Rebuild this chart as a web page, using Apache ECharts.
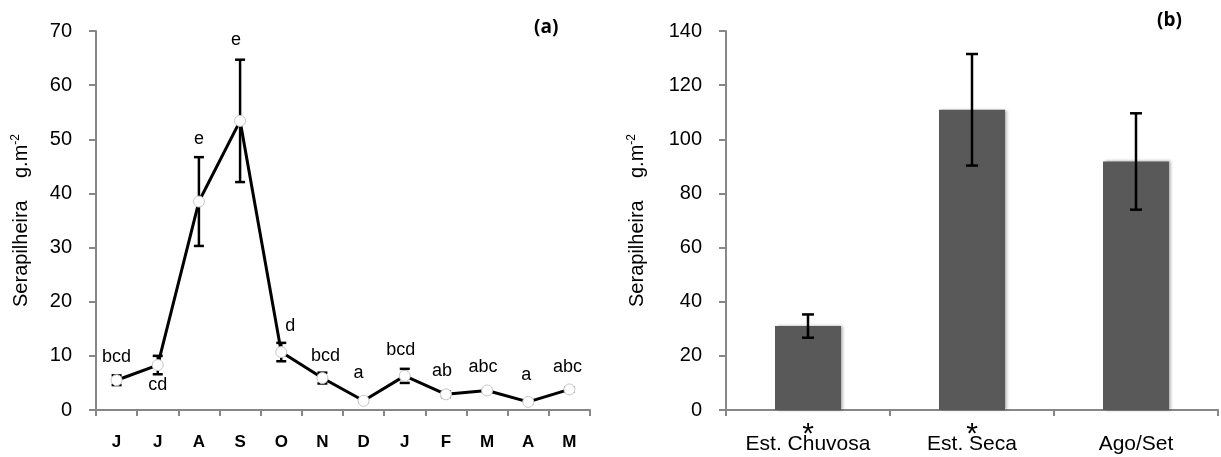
<!DOCTYPE html>
<html>
<head>
<meta charset="utf-8">
<script src="https://cdn.jsdelivr.net/npm/echarts@6/dist/echarts.min.js"></script>
<style>
html, body { margin: 0; padding: 0; background: #fff; }
#chart { width: 1221px; height: 457px; }
</style>
</head>
<body>
<div id="chart"></div>
<script>
// (a) serapilheira por mes
var months = ['J', 'J', 'A', 'S', 'O', 'N', 'D', 'J', 'F', 'M', 'A', 'M'];
var monthMean = [5.5, 8.3, 38.5, 53.4, 10.7, 5.9, 1.7, 6.3, 2.9, 3.6, 1.5, 3.8];
var monthErr = [0.9, 1.7, 8.2, 11.3, 1.7, 1.0, 0.3, 1.3, 0.5, 0.4, 0.3, 0.4];
var monthLetters = ['bcd', 'cd', 'e', 'e', 'd', 'bcd', 'a', 'bcd', 'ab', 'abc', 'a', 'abc'];

// (b) por estacao
var seasons = ['Est. Chuvosa', 'Est. Seca', 'Ago/Set'];
var seasonMean = [31.0, 110.9, 91.8];
var seasonErr = [4.3, 20.6, 17.8];
var seasonStars = ['*', '*', ''];

// deslocamento das letras (px) em relacao ao ponto
var letterOffset = [[0, -23], [0, 20], [0, -63], [-4, -81], [9, -26], [3, -22],
                    [-5, -28], [-4, -26], [-4, -23], [-4, -23], [-2, -27], [-2, -22]];

var font = "'Liberation Sans', Arial, sans-serif";
var axisGray = '#878787';

function errorBars(capW, lw) {
    return function (params, api) {
        var x = api.value(0);
        var hi = api.coord([x, api.value(2)]);
        var lo = api.coord([x, api.value(1)]);
        var style = { stroke: '#000', lineWidth: lw };
        return {
            type: 'group',
            children: [
                { type: 'line', shape: { x1: hi[0], y1: hi[1], x2: lo[0], y2: lo[1] }, style: style },
                { type: 'line', shape: { x1: hi[0] - capW / 2, y1: hi[1], x2: hi[0] + capW / 2, y2: hi[1] }, style: style },
                { type: 'line', shape: { x1: lo[0] - capW / 2, y1: lo[1], x2: lo[0] + capW / 2, y2: lo[1] }, style: style }
            ]
        };
    };
}

function errData(mean, err) {
    var out = [];
    for (var i = 0; i < mean.length; i++) {
        out.push([i, mean[i] - err[i], mean[i] + err[i]]);
    }
    return out;
}

var lineData = monthMean.map(function (v, i) {
    return {
        value: v,
        label: { show: true, position: 'inside', offset: letterOffset[i], formatter: monthLetters[i] }
    };
});

function yAxis(idx, max, interval, gap) {
    return {
        type: 'value', gridIndex: idx, min: 0, max: max, interval: interval,
        name: '{t|Serapilheira    g.m}{s|-2}', nameLocation: 'middle', nameGap: gap, nameRotate: 90,
        nameTextStyle: {
            rich: {
                t: { fontSize: 20, fontFamily: font, color: '#000' },
                s: { fontSize: 12, fontFamily: font, color: '#000', verticalAlign: 'top', padding: [0, 0, 10, 0] }
            }
        },
        axisLine: { show: true, lineStyle: { color: axisGray, width: 2 } },
        axisTick: { show: true, length: 7, lineStyle: { color: axisGray, width: 2 } },
        axisLabel: { fontSize: 20, fontFamily: font, color: '#000', margin: 24 },
        splitLine: { show: false }
    };
}

var chart = echarts.init(document.getElementById('chart'));
chart.setOption({
    animation: false,
    backgroundColor: '#fff',
    title: [
        { text: '(a)', left: 529, top: 13, textStyle: { fontSize: 19, fontWeight: 'bold', fontFamily: "'Open Sans', sans-serif", color: '#000' } },
        { text: '(b)', left: 1152, top: 6, textStyle: { fontSize: 19, fontWeight: 'bold', fontFamily: "'Open Sans', sans-serif", color: '#000' } }
    ],
    grid: [
        { left: 96, top: 31, width: 494, height: 379 },
        { left: 726, top: 31, width: 492, height: 379 }
    ],
    xAxis: [
        {
            type: 'category', gridIndex: 0, data: months,
            axisLine: { lineStyle: { color: axisGray, width: 2 } },
            axisTick: { show: true, length: 6, lineStyle: { color: axisGray, width: 2 } },
            axisLabel: { fontSize: 17, fontWeight: 'bold', fontFamily: font, color: '#000', margin: 24, interval: 0 }
        },
        {
            type: 'category', gridIndex: 1, data: seasons,
            axisLine: { lineStyle: { color: axisGray, width: 2 } },
            axisTick: { show: true, length: 6, lineStyle: { color: axisGray, width: 2 } },
            axisLabel: { fontSize: 21, fontFamily: font, color: '#000', margin: 24, interval: 0 }
        }
    ],
    yAxis: [yAxis(0, 70, 10, 64), yAxis(1, 140, 20, 78)],
    series: [
        {
            type: 'custom', xAxisIndex: 0, yAxisIndex: 0, z: 2,
            renderItem: errorBars(10, 2.5),
            data: errData(monthMean, monthErr)
        },
        {
            type: 'line', xAxisIndex: 0, yAxisIndex: 0, z: 3,
            data: lineData,
            symbol: 'circle', symbolSize: 11,
            lineStyle: { color: '#000', width: 3 },
            itemStyle: { color: '#fff', borderColor: '#c8c8c8', borderWidth: 1 },
            label: { fontSize: 18, fontFamily: font, color: '#000' }
        },
        {
            type: 'bar', xAxisIndex: 1, yAxisIndex: 1, z: 2,
            data: seasonMean, barWidth: 66,
            itemStyle: { color: '#595959', shadowColor: 'rgba(0,0,0,0.35)', shadowBlur: 3, shadowOffsetX: 1.5 },
            label: {
                show: true, position: 'bottom', distance: 10,
                formatter: function (p) { return seasonStars[p.dataIndex]; },
                fontSize: 30, fontFamily: font, color: '#000'
            }
        },
        {
            type: 'custom', xAxisIndex: 1, yAxisIndex: 1, z: 4,
            renderItem: errorBars(12, 2.5),
            data: errData(seasonMean, seasonErr)
        }
    ]
});
</script>
</body>
</html>
